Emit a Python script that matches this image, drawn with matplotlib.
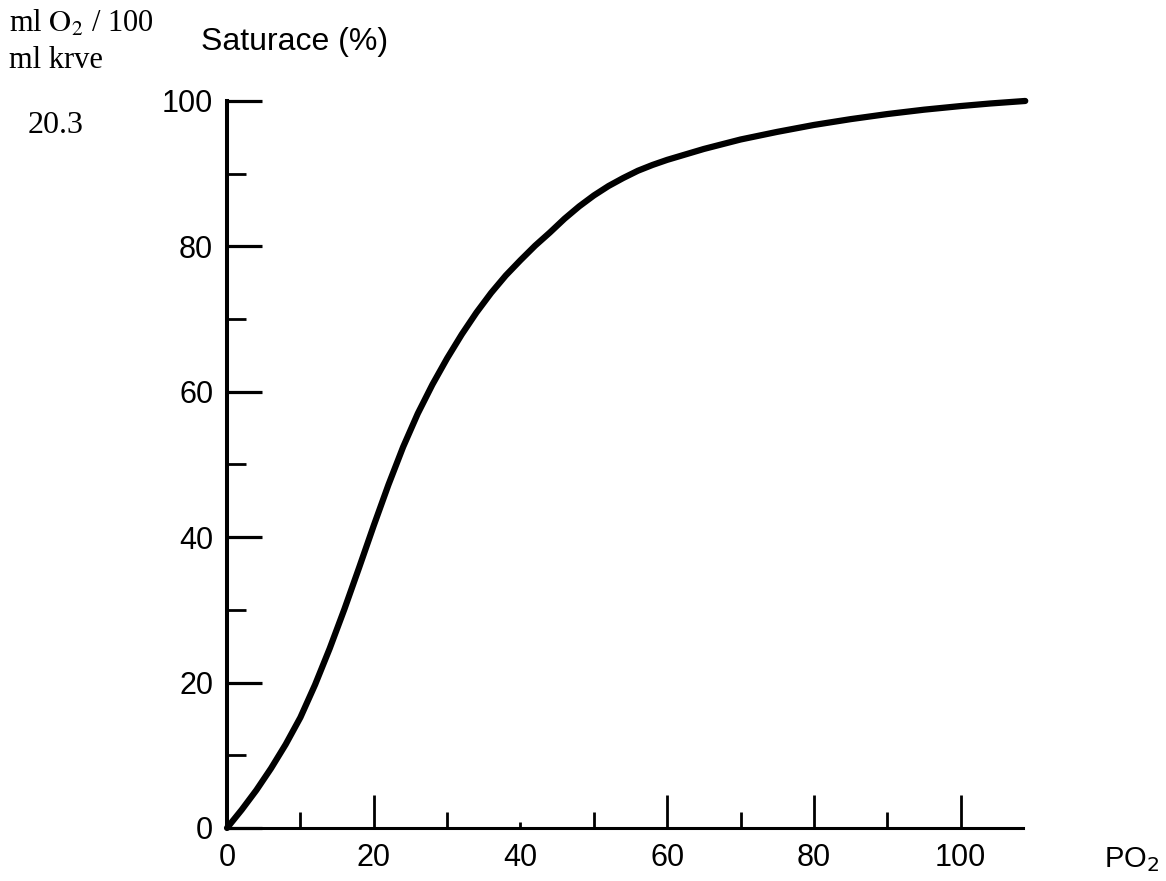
import matplotlib
matplotlib.use("Agg")
import matplotlib.pyplot as plt
from matplotlib.ticker import MultipleLocator

plt.rcParams['font.family'] = ['Liberation Sans', 'DejaVu Sans']

# oxygen dissociation curve: PO2 (mmHg) vs saturation (%)
po2 = [0, 2, 4, 6, 8, 10, 12, 14, 16, 18, 20, 22, 24, 26, 28, 30, 32, 34, 36,
       38, 40, 42, 44, 46, 48, 50, 52, 54, 56, 58, 60, 65, 70, 75, 80, 85,
       90, 95, 100, 104, 108.8]
saturation = [0, 2.5, 5.2, 8.2, 11.5, 15.2, 19.7, 24.7, 30.1, 35.8, 41.6,
              47.2, 52.4, 57.0, 61.0, 64.6, 67.9, 70.9, 73.6, 76.0, 78.1,
              80.1, 81.9, 83.8, 85.5, 87.0, 88.3, 89.4, 90.4, 91.2, 91.9,
              93.4, 94.7, 95.75, 96.7, 97.5, 98.2, 98.8, 99.3, 99.65, 100.0]

x_major = [0, 20, 40, 60, 80, 100]
y_major = [0, 20, 40, 60, 80, 100]

fig = plt.figure(figsize=(11.66, 8.81), dpi=100)
ax = fig.add_axes([0.1947, 0.0602, 0.6827, 0.8252])

ax.plot(po2, saturation, color='black', lw=4.5, solid_capstyle='round',
        solid_joinstyle='round', clip_on=False, zorder=3)

ax.set_xlim(0, 108.5)
ax.set_ylim(0, 100)
ax.set_xticks(x_major)
ax.set_yticks(y_major)
ax.xaxis.set_minor_locator(MultipleLocator(10))
ax.yaxis.set_minor_locator(MultipleLocator(10))

for side in ['top', 'right']:
    ax.spines[side].set_visible(False)
ax.spines['left'].set_linewidth(2.9)
ax.spines['bottom'].set_linewidth(2.2)

ax.tick_params(axis='y', which='major', direction='in', length=25, width=2.3,
               pad=10, labelsize=22)
ax.tick_params(axis='y', which='minor', direction='in', length=14, width=2.0)
ax.tick_params(axis='x', which='major', direction='in', length=24, width=2.0,
               pad=11, labelsize=22)
ax.tick_params(axis='x', which='minor', direction='in', length=11.5, width=2.0)

# the tick at 40 is printed short
ax.xaxis.get_major_ticks()[2].tick1line.set_markersize(4)

fig.text(0.253, 0.943, 'Saturace (%)', fontsize=23, ha='center',
         va='baseline')
fig.text(0.008, 0.964, r'ml $\mathrm{O}_2$ / 100', fontsize=22,
         family='Liberation Serif', math_fontfamily='stix', va='baseline')
fig.text(0.008, 0.923, 'ml krve', fontsize=22, family='Liberation Serif',
         va='baseline')
fig.text(0.024, 0.849, '20.3', fontsize=23, family='Liberation Serif',
         va='baseline')
fig.text(0.947, 0.016, r'PO$_2$', fontsize=21, math_fontfamily='dejavusans',
         va='baseline')

fig.savefig('out.png', dpi=100)
